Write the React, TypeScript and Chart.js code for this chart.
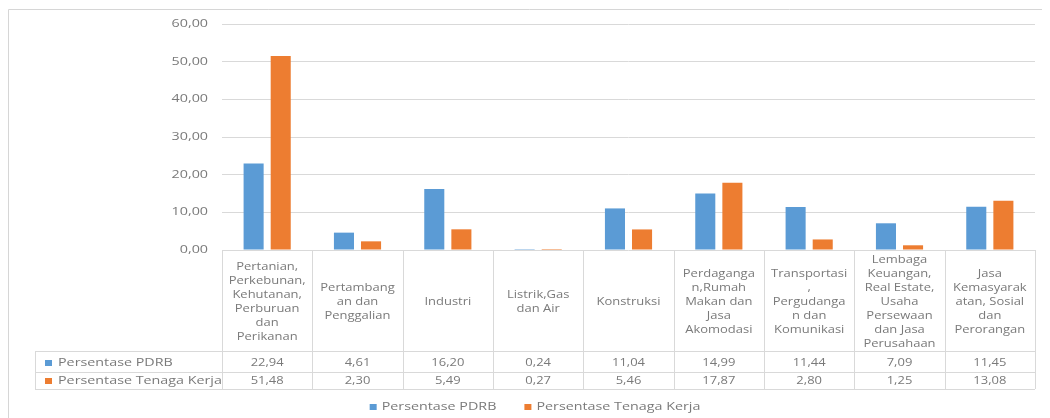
import React, { useEffect, useRef } from "react";
import { Chart, registerables } from "chart.js";

Chart.register(...registerables);

const categories: string[][] = [
  ["Pertanian,", "Perkebunan,", "Kehutanan,", "Perburuan", "dan", "Perikanan"],
  ["Pertambang", "an dan", "Penggalian"],
  ["Industri"],
  ["Listrik,Gas", "dan Air"],
  ["Konstruksi"],
  ["Perdaganga", "n,Rumah", "Makan dan", "Jasa", "Akomodasi"],
  ["Transportasi", ",", "Pergudanga", "n dan", "Komunikasi"],
  ["Lembaga", "Keuangan,", "Real Estate,", "Usaha", "Persewaan", "dan Jasa", "Perusahaan"],
  ["Jasa", "Kemasyarak", "atan, Sosial", "dan", "Perorangan"],
];

const persentasePDRB = [22.94, 4.61, 16.2, 0.24, 11.04, 14.99, 11.44, 7.09, 11.45];
const persentaseTenagaKerja = [51.48, 2.3, 5.49, 0.27, 5.46, 17.87, 2.8, 1.25, 13.08];

const seriesNames = ["Persentase PDRB", "Persentase Tenaga Kerja"];
const seriesColors = ["#5B9BD5", "#ED7D31"];

const yMin = 0;
const yMax = 60;
const yStep = 10;

const W = 1042;
const H = 410;
const SX_CELL = 1.18;
const SX_LABEL = 1.3;
const FONT = "11px 'Open Sans'";
const TEXT = "#7a7a7a";
const LINE = "#D9D9D9";

function fmt(v: number) {
  return v.toFixed(2).replace(".", ",");
}

function txt(ctx: CanvasRenderingContext2D, s: string, x: number, y: number, align: CanvasTextAlign, sx: number) {
  ctx.save();
  ctx.translate(x, y);
  ctx.scale(sx, 1);
  ctx.textAlign = align;
  ctx.textBaseline = "middle";
  ctx.fillText(s, 0, 0);
  ctx.restore();
}

const tablePlugin = {
  id: "tablePlugin",
  afterDraw(chart: any) {
    const ctx: CanvasRenderingContext2D = chart.ctx;
    const area = chart.chartArea;
    const xs = chart.scales.x;
    const ys = chart.scales.y;
    const n = categories.length;
    const colW = (area.right - area.left) / n;

    ctx.save();
    ctx.font = FONT;
    ctx.fillStyle = TEXT;

    // frame (left and top)
    ctx.strokeStyle = "#D6D6D6";
    ctx.lineWidth = 1;
    ctx.beginPath();
    ctx.moveTo(0.5, H);
    ctx.lineTo(0.5, 1.5);
    ctx.lineTo(W, 1.5);
    ctx.stroke();

    // y tick labels
    ys.ticks.forEach((t: any) => {
      const y = ys.getPixelForValue(t.value);
      txt(ctx, fmt(t.value), area.left - 14, y, "right", SX_LABEL);
    });

    const top = area.bottom;
    const headerBottom = 343;
    const row1Bottom = 364;
    const row2Bottom = 381;
    const labelLeft = 27;

    ctx.strokeStyle = LINE;
    ctx.beginPath();
    for (let i = 0; i <= n; i++) {
      const x = Math.round(area.left + i * colW) + 0.5;
      ctx.moveTo(x, top);
      ctx.lineTo(x, row2Bottom);
    }
    [headerBottom, row1Bottom, row2Bottom].forEach((y) => {
      ctx.moveTo(labelLeft, y + 0.5);
      ctx.lineTo(area.right, y + 0.5);
    });
    ctx.moveTo(labelLeft + 0.5, headerBottom);
    ctx.lineTo(labelLeft + 0.5, row2Bottom);
    ctx.stroke();

    // header labels
    const lh = 14;
    const hc = 294;
    categories.forEach((lines, i) => {
      const cx = xs.getPixelForValue(i);
      const y0 = hc - ((lines.length - 1) * lh) / 2;
      lines.forEach((l, j) => txt(ctx, l, cx, y0 + j * lh, "center", SX_CELL));
    });

    // rows
    const rows = [persentasePDRB, persentaseTenagaKerja];
    const rowCenters = [355, 373];
    rows.forEach((vals, r) => {
      const cy = rowCenters[r];
      ctx.fillStyle = seriesColors[r];
      ctx.fillRect(labelLeft + 10, cy - 3, 7, 6);
      ctx.fillStyle = TEXT;
      txt(ctx, seriesNames[r], labelLeft + 23, cy, "left", SX_LABEL);
      vals.forEach((v, i) => txt(ctx, fmt(v), xs.getPixelForValue(i), cy, "center", SX_CELL));
    });

    // legend
    const ly = 399;
    const w0 = ctx.measureText(seriesNames[0]).width * SX_LABEL;
    const w1 = ctx.measureText(seriesNames[1]).width * SX_LABEL;
    const box = 7, gapBox = 5, gapItem = 28;
    const total = box + gapBox + w0 + gapItem + box + gapBox + w1;
    let lx = 527 - total / 2;
    [w0, w1].forEach((w, k) => {
      ctx.fillStyle = seriesColors[k];
      ctx.fillRect(lx, ly - 3, box, 6);
      ctx.fillStyle = TEXT;
      txt(ctx, seriesNames[k], lx + box + gapBox, ly, "left", SX_LABEL);
      lx += box + gapBox + w + gapItem;
    });

    ctx.restore();
  },
};

export default function App() {
  const ref = useRef<HTMLCanvasElement | null>(null);
  useEffect(() => {
    if (!ref.current) return;
    const chart = new Chart(ref.current, {
      type: "bar",
      data: {
        labels: categories.map((c) => c.join(" ")),
        datasets: [
          {
            label: seriesNames[0],
            data: persentasePDRB,
            backgroundColor: seriesColors[0],
            categoryPercentage: 0.6,
            barPercentage: 0.74,
          },
          {
            label: seriesNames[1],
            data: persentaseTenagaKerja,
            backgroundColor: seriesColors[1],
            categoryPercentage: 0.6,
            barPercentage: 0.74,
          },
        ],
      },
      options: {
        responsive: false,
        animation: false,
        layout: { padding: { top: 16, right: 15, left: 0, bottom: 0 } },
        plugins: { legend: { display: false }, tooltip: { enabled: false } },
        scales: {
          x: {
            ticks: { display: false },
            grid: { display: false },
            border: { display: false },
            afterFit: (s: any) => {
              s.height = 168;
            },
          },
          y: {
            min: yMin,
            max: yMax,
            ticks: { display: false, stepSize: yStep },
            grid: { color: LINE, drawTicks: false },
            border: { display: false },
            afterFit: (s: any) => {
              s.width = 214;
            },
          },
        },
      },
      plugins: [tablePlugin],
    });
    return () => chart.destroy();
  }, []);
  return (
    <div style={{ width: W, height: H }}>
      <canvas ref={ref} width={W} height={H} style={{ display: "block" }} />
    </div>
  );
}
